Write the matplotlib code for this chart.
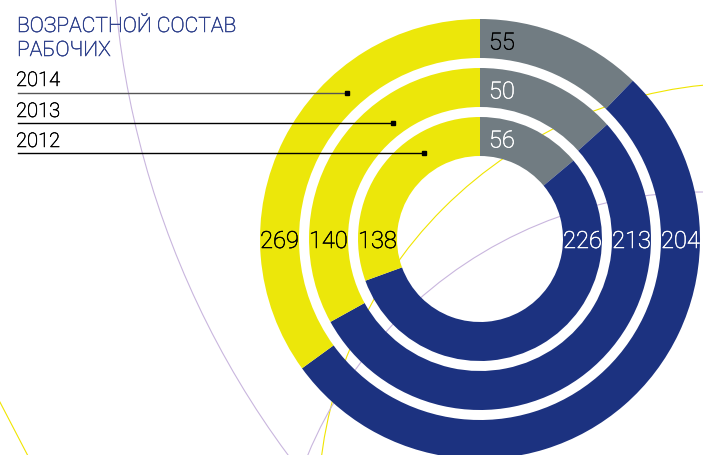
import matplotlib
matplotlib.use("Agg")
import matplotlib.pyplot as plt
from matplotlib.patches import Circle
import matplotlib.patheffects as pe

# Data
years = ["2014", "2013", "2012"]
gray_vals = [55, 50, 56]
navy_vals = [204, 213, 226]
yellow_vals = [269, 140, 138]
# segment sizes (degrees) as drawn in the reference
gray_deg = [44, 48, 50]
navy_deg = [190, 193, 200]
yellow_deg = [126, 119, 110]

# Colours
GRAY = "#717c82"
NAVY = "#1c3280"
YELLOW = "#ece70a"
TITLE = "#2f418c"
LILAC = "#c9b6de"
LINE_YEL = "#f0e500"

W, H = 703, 456
plt.rcParams["font.family"] = ["Roboto", "DejaVu Sans"]

fig = plt.figure(figsize=(W / 100, H / 100), dpi=100)
ax = fig.add_axes([0, 0, 1, 1])

def py(y):
    # pixel row -> data y
    return H - y

def label(x, y, s, color, size, ha="left"):
    # light face, slightly thickened to match the reference stroke weight
    ax.text(x, y, s, fontsize=size, fontweight="light", color=color, ha=ha,
            va="baseline", zorder=4,
            path_effects=[pe.withStroke(linewidth=0.4, foreground=color)])

# decorative thin arcs under the rings
ax.add_patch(Circle((1007, py(-77)), 895, fill=False, ec=LILAC, lw=0.8, zorder=1))
ax.add_patch(Circle((746, py(512)), 428, fill=False, ec=LINE_YEL, lw=0.8, zorder=1))
ax.add_patch(Circle((702, py(620)), 427, fill=False, ec=LILAC, lw=0.8, zorder=1))
ax.plot([-10, 40], [py(384), py(480)], color=LINE_YEL, lw=0.8, zorder=1)

# rings
cx, cy = 480, py(240)
radii = [220, 171, 122]
ring_w = 39
for i in range(3):
    wedges, _ = ax.pie([gray_deg[i], navy_deg[i], yellow_deg[i]], radius=radii[i],
                       center=(cx, cy), startangle=90, counterclock=False,
                       colors=[GRAY, NAVY, YELLOW],
                       wedgeprops=dict(width=ring_w, linewidth=0))
    for w in wedges:
        w.set_zorder(2)

    rmid = radii[i] - ring_w / 2
    label(cx - rmid, cy - 9, str(yellow_vals[i]), "black", 17, ha="center")
    label(cx + rmid, cy - 9, str(navy_vals[i]), "white", 17, ha="center")
    label(cx + 9, cy + rmid - 11, str(gray_vals[i]),
          "black" if i == 0 else "white", 17)

# title
label(17, py(33), "ВОЗРАСТНОЙ СОСТАВ", TITLE, 15.2)
label(17, py(57), "РАБОЧИХ", TITLE, 15.2)

# year labels with leader lines
year_base = [87, 118, 148]
line_y = [93.5, 123.5, 153.5]
line_end = [347, 393, 424]
line_col = ["#555555", "black", "black"]
for i in range(3):
    label(16, py(year_base[i]), years[i], "black", 14.5)
    ax.plot([18, line_end[i]], [py(line_y[i])] * 2, color=line_col[i], lw=1, zorder=3)
    ax.plot(line_end[i], py(line_y[i]), marker="s", ms=2.5, color="black", zorder=3)

ax.set_aspect("auto")
ax.set_xlim(0, W)
ax.set_ylim(0, H)
ax.axis("off")

fig.savefig("out.png", dpi=100)
